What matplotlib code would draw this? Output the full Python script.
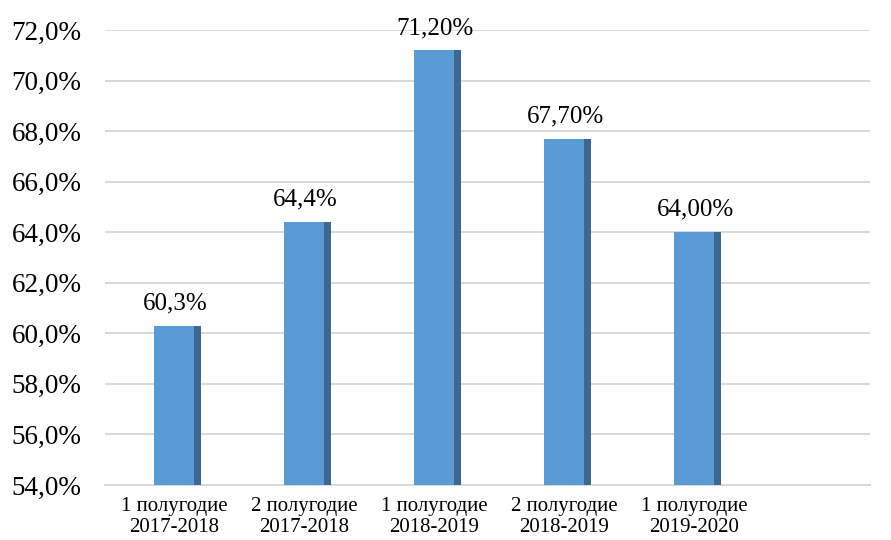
import numpy as np
import matplotlib.pyplot as plt

plt.rcParams["font.family"] = ["Liberation Serif", "DejaVu Serif"]

categories = ["1 полугодие\n2017-2018", "2 полугодие\n2017-2018", "1 полугодие\n2018-2019",
              "2 полугодие\n2018-2019", "1 полугодие\n2019-2020"]
values = [60.3, 64.4, 71.2, 67.7, 64.0]
value_labels = ["60,3%", "64,4%", "71,20%", "67,70%", "64,00%"]
yticks = np.arange(54, 73, 2)

FRONT = "#5b9bd5"
SIDE = "#3b6790"

fig = plt.figure(figsize=(8.91, 5.4), dpi=100)
ax = fig.add_axes([0.118, 0.102, 0.858, 0.842])

x = np.arange(len(values))
w = 0.31
sw = 0.055
ax.bar(x - w / 2, np.array(values) - 54, width=w, bottom=54, align="edge",
       color=FRONT, zorder=3)
ax.bar(x + w / 2, np.array(values) - 54, width=sw, bottom=54, align="edge",
       color=SIDE, zorder=3)

for xi, v, lab in zip(x, values, value_labels):
    ax.text(xi + 0.01, v + 0.45, lab, ha="center", va="bottom", fontsize=18)

ax.set_ylim(54, 72)
ax.set_xlim(-0.53, 5.35)
ax.set_yticks(yticks)
ax.set_yticklabels([f"{t:.1f}%".replace(".", ",") for t in yticks], fontsize=19.5)
ax.set_xticks(x)
ax.set_xticklabels(categories, fontsize=15, linespacing=1.12)
ax.tick_params(axis="y", length=0, pad=17)
ax.tick_params(axis="x", length=0, pad=9)

ax.yaxis.grid(True, color="#d9d9d9", lw=1.4, zorder=0)
ax.set_axisbelow(True)
for s in ("top", "right", "left"):
    ax.spines[s].set_visible(False)
ax.spines["bottom"].set_color("#d9d9d9")
ax.spines["bottom"].set_linewidth(1.4)

fig.savefig("out.png", dpi=100)
